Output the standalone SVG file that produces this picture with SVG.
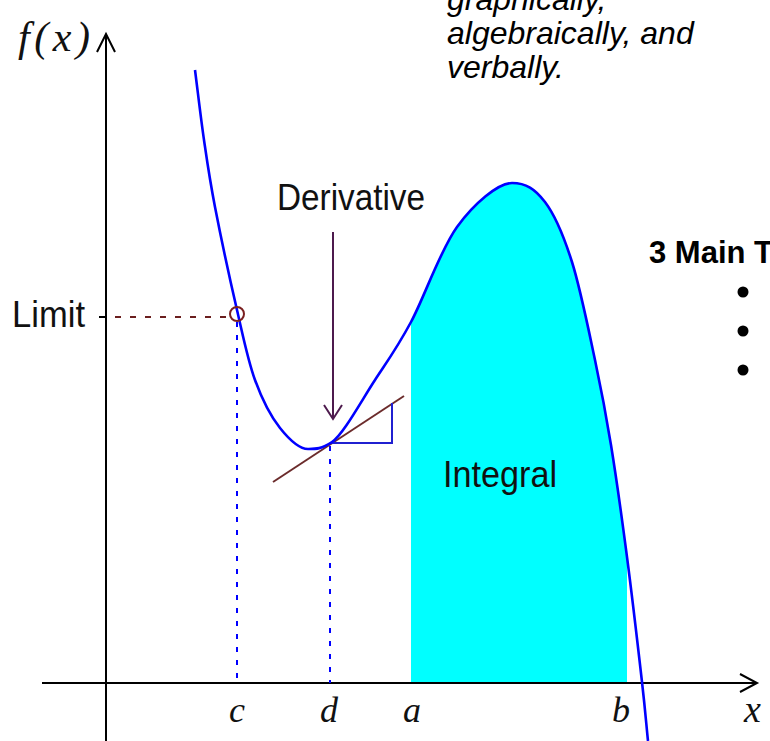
<svg xmlns="http://www.w3.org/2000/svg" width="770" height="741" viewBox="0 0 770 741">
<style>
.axis{stroke:#000;stroke-width:2;fill:none}
.curve{stroke:#0000ff;stroke-width:2.6;fill:none;stroke-linejoin:round}
.vdot{stroke:#0000ff;stroke-width:2;stroke-dasharray:5 8;fill:none}
.hdot{stroke:#6b1f1f;stroke-width:2;stroke-dasharray:6 9;fill:none}
.lbl{font-family:"Liberation Sans",Arial,sans-serif;font-size:36px;fill:#111}
.var{font-family:"Liberation Serif","Times New Roman",serif;font-style:italic;font-size:36px;fill:#111}
.side{font-family:"Liberation Sans",Arial,sans-serif;font-style:italic;font-size:32px;fill:#000}
</style>
<rect width="770" height="741" fill="#fff"/>
<g id="integral-area">
<path fill="#00ffff" d="M411,683 L411,322 C424.67,296.5 440.17,250.17 457,227 C473.83,203.83 498,183 512,183 C526,183 535,188.83 545,202 C555,215.17 563.67,235.67 572,262 C580.33,288.33 588.5,329.5 595,360 C601.5,390.5 605.67,412.17 611,445 C616.33,477.83 621.83,517.5 627,557 L627,683 Z"/>
</g>
<g id="axes">
<line class="axis" x1="42" y1="683" x2="756" y2="683"/>
<polyline class="axis" points="740,674 757,683 740,692"/>
<line class="axis" x1="106" y1="741" x2="106" y2="35"/>
<polyline class="axis" points="97,52 106,34 115,52"/>
<line class="axis" x1="99" y1="317" x2="106" y2="317"/>
</g>
<g id="connectors">
<line class="hdot" x1="115" y1="317" x2="229" y2="317"/>
<line class="vdot" x1="237" y1="322" x2="237" y2="683"/>
<line class="vdot" x1="330" y1="446" x2="330" y2="683"/>
<line stroke="#6b2b2b" stroke-width="2" x1="273" y1="482" x2="404" y2="396"/>
<polyline fill="none" stroke="#2020d0" stroke-width="2" points="332,443 392,443 392,403"/>
<line stroke="#4d1a4d" stroke-width="2" x1="333" y1="232" x2="333" y2="418"/>
<polyline fill="none" stroke="#4d1a4d" stroke-width="2" points="324,405 333,419 342,405"/>
</g>
<g id="function-curve">
<path class="curve" d="M195,70 C198,93.3 200.67,117.17 204,140 C207.33,162.83 209.5,178.67 215,207 C220.5,235.33 230.33,281.17 237,310 C243.67,338.83 247.83,360.33 255,380 C262.17,399.67 270.83,416.5 280,428 C289.17,439.5 300,449 308,449 C316,449 321,449.2 332,442 C343,434.8 361.83,400 375,380 C388.17,360 397.33,347.5 411,322 C424.67,296.5 440.17,250.17 457,227 C473.83,203.83 498,183 512,183 C526,183 535,188.83 545,202 C555,215.17 563.67,235.67 572,262 C580.33,288.33 588.5,329.5 595,360 C601.5,390.5 605.67,412.17 611,445 C616.33,477.83 621.83,517.5 627,557 C632.17,596.5 638.5,651.33 642,682 C645.5,712.67 646,721.33 648,741"/>
</g>
<g id="limit-point">
<circle cx="237" cy="314" r="7" fill="none" stroke="#7a2020" stroke-width="2"/>
</g>
<g id="labels">
<text class="var" x="18" y="51" style="font-size:42px" textLength="72" lengthAdjust="spacing">f(x)</text>
<text class="var" x="744" y="722" style="font-size:38px">x</text>
<text class="var" x="237" y="722" text-anchor="middle">c</text>
<text class="var" x="329" y="722" text-anchor="middle">d</text>
<text class="var" x="412" y="722" text-anchor="middle">a</text>
<text class="var" x="621" y="722" text-anchor="middle">b</text>
<text class="lbl" x="12" y="327" textLength="73" lengthAdjust="spacingAndGlyphs">Limit</text>
<text class="lbl" x="277" y="210" textLength="148" lengthAdjust="spacingAndGlyphs">Derivative</text>
<text class="lbl" x="443" y="487" textLength="114" lengthAdjust="spacingAndGlyphs">Integral</text>
</g>
<g id="side-text">
<text class="side" x="447" y="10">graphically,</text>
<text class="side" x="447" y="44">algebraically, and</text>
<text class="side" x="447" y="78">verbally.</text>
<text x="649" y="263" font-family="Liberation Sans,Arial,sans-serif" font-weight="bold" font-size="31" fill="#000">3 Main T</text>
<circle cx="743" cy="292" r="5.5" fill="#000"/>
<circle cx="743" cy="331" r="5.5" fill="#000"/>
<circle cx="743" cy="370" r="5.5" fill="#000"/>
</g>
</svg>
